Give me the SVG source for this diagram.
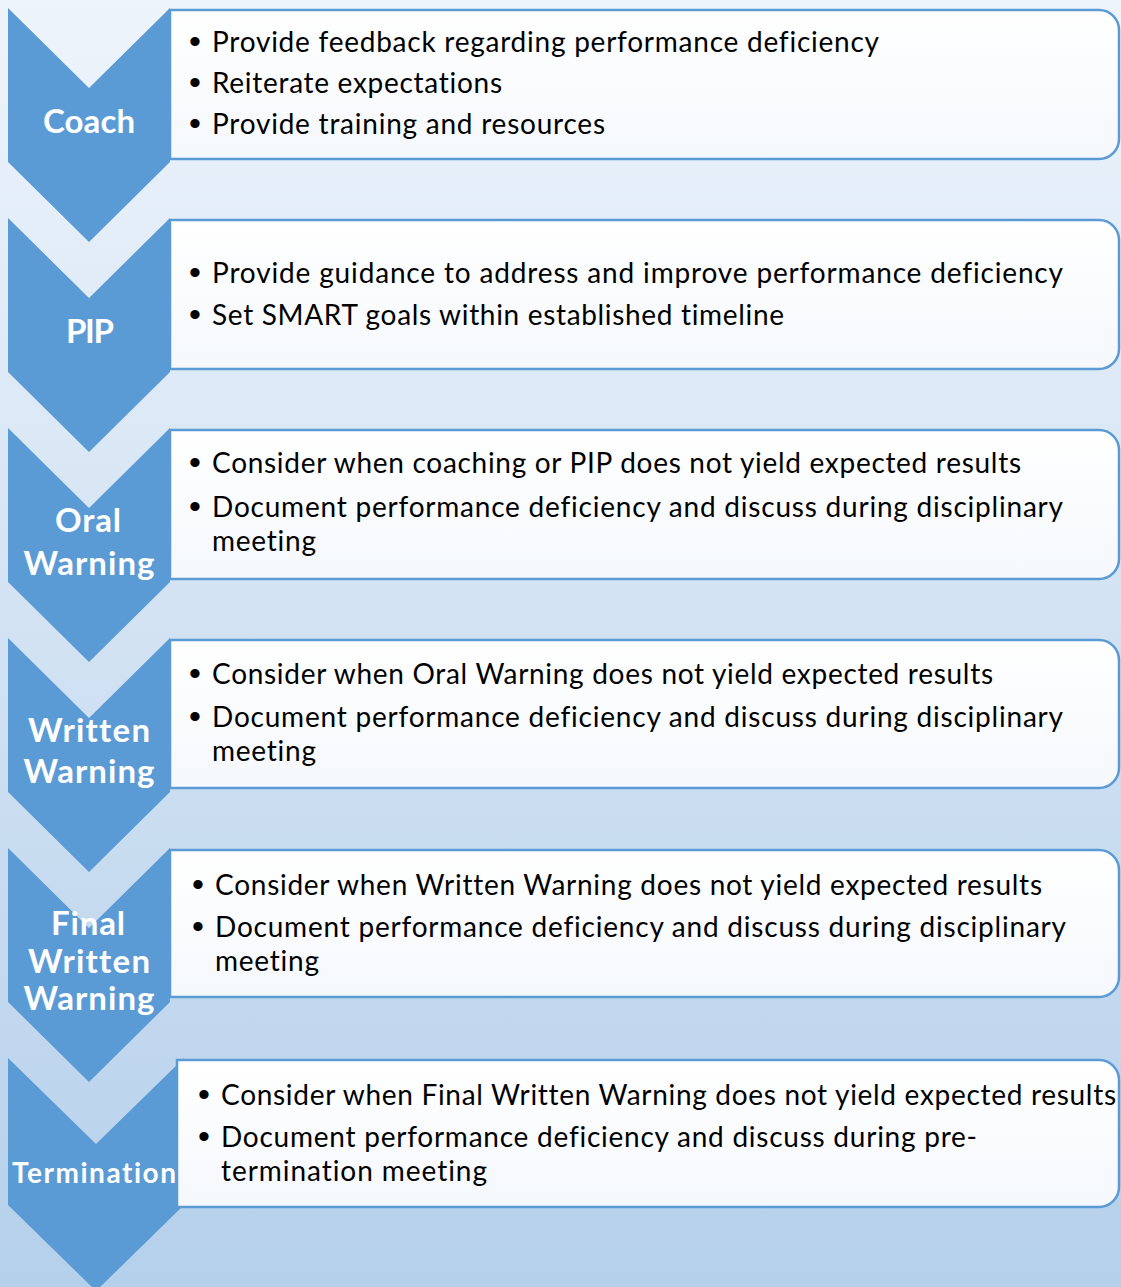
<svg xmlns="http://www.w3.org/2000/svg" width="1121" height="1287" viewBox="0 0 1121 1287">
<defs>
<linearGradient id="bg" x1="0" y1="0" x2="0" y2="1">
<stop offset="0" stop-color="#EEF4FB"/>
<stop offset="1" stop-color="#B5D0EB"/>
</linearGradient>
<linearGradient id="boxfill" x1="0" y1="0" x2="0" y2="1">
<stop offset="0" stop-color="#FFFFFF"/>
<stop offset="1" stop-color="#F5F8FC"/>
</linearGradient>
</defs>
<style>
.chev{fill:#5B9BD5;}
.box{fill:url(#boxfill);stroke:#5B9BD5;stroke-width:2.5;}
.lbl{font-family:Lato,"Liberation Sans",sans-serif;font-weight:bold;font-size:33px;fill:#FFFFFF;text-anchor:middle;font-variant-ligatures:none;font-feature-settings:"liga" 0,"dlig" 0,"clig" 0;}
.txt{font-family:Lato,"Liberation Sans",sans-serif;font-size:28px;fill:#000000;font-variant-ligatures:none;font-feature-settings:"liga" 0,"dlig" 0,"clig" 0;}
.bul{font-family:"Liberation Sans",sans-serif;font-size:34px;fill:#000000;text-anchor:middle;}
</style>
<rect x="0" y="0" width="1121" height="1287" fill="url(#bg)"/>

<g id="connectors"></g>

<g id="coach">
<polygon class="chev" points="8,8 89,88 170,8 170,162 89,242 8,162"/>
<path class="box" d="M170,10 H1099 A20,20 0 0 1 1119,30 V139 A20,20 0 0 1 1099,159 H170 Z"/>
<text class="lbl" x="89" y="133" textLength="92">Coach</text>
<text class="bul" x="195" y="53">•</text>
<text class="txt" x="212" y="52" textLength="667">Provide feedback regarding performance deficiency</text>
<text class="bul" x="195" y="94">•</text>
<text class="txt" x="212" y="93" textLength="290">Reiterate expectations</text>
<text class="bul" x="195" y="135">•</text>
<text class="txt" x="212" y="134" textLength="393">Provide training and resources</text>
</g>

<g id="pip">
<polygon class="chev" points="8,218 89,298 170,218 170,372 89,452 8,372"/>
<path class="box" d="M170,220 H1099 A20,20 0 0 1 1119,240 V349 A20,20 0 0 1 1099,369 H170 Z"/>
<text class="lbl" x="90" y="343" textLength="48">PIP</text>
<text class="bul" x="195" y="284">•</text>
<text class="txt" x="212" y="283" textLength="851">Provide guidance to address and improve performance deficiency</text>
<text class="bul" x="195" y="326">•</text>
<text class="txt" x="212" y="325" textLength="572">Set SMART goals within established timeline</text>
</g>

<g id="oral-warning">
<polygon class="chev" points="8,428 89,508 170,428 170,582 89,662 8,582"/>
<path class="box" d="M170,430 H1099 A20,20 0 0 1 1119,450 V559 A20,20 0 0 1 1099,579 H170 Z"/>
<text class="lbl" x="88" y="532" textLength="66">Oral</text>
<text class="lbl" x="89" y="575" textLength="131">Warning</text>
<text class="bul" x="195" y="474">•</text>
<text class="txt" x="212" y="473" textLength="809">Consider when coaching or PIP does not yield expected results</text>
<text class="bul" x="195" y="518">•</text>
<text class="txt" x="212" y="517" textLength="851">Document performance deficiency and discuss during disciplinary</text>
<text class="txt" x="212" y="551" textLength="104">meeting</text>
</g>

<g id="written-warning">
<polygon class="chev" points="8,638 89,718 170,638 170,792 89,872 8,792"/>
<path class="box" d="M170,640 H1099 A20,20 0 0 1 1119,660 V768 A20,20 0 0 1 1099,788 H170 Z"/>
<text class="lbl" x="89" y="742" textLength="122">Written</text>
<text class="lbl" x="89" y="783" textLength="131">Warning</text>
<text class="bul" x="195" y="685">•</text>
<text class="txt" x="212" y="684" textLength="781">Consider when Oral Warning does not yield expected results</text>
<text class="bul" x="195" y="728">•</text>
<text class="txt" x="212" y="727" textLength="851">Document performance deficiency and discuss during disciplinary</text>
<text class="txt" x="212" y="761" textLength="104">meeting</text>
</g>

<g id="final-written-warning">
<polygon class="chev" points="8,848 89,928 170,848 170,1002 89,1082 8,1002"/>
<path class="box" d="M170,850 H1099 A20,20 0 0 1 1119,870 V977 A20,20 0 0 1 1099,997 H170 Z"/>
<text class="lbl" x="88" y="935" textLength="74">Final</text>
<text class="lbl" x="89" y="973" textLength="122">Written</text>
<text class="lbl" x="89" y="1010" textLength="131">Warning</text>
<text class="bul" x="198" y="896">•</text>
<text class="txt" x="215" y="895" textLength="827">Consider when Written Warning does not yield expected results</text>
<text class="bul" x="198" y="938">•</text>
<text class="txt" x="215" y="937" textLength="851">Document performance deficiency and discuss during disciplinary</text>
<text class="txt" x="215" y="971" textLength="104">meeting</text>
</g>

<g id="termination">
<polygon class="chev" points="8,1058 96,1144 184,1058 184,1205 96,1291 8,1205"/>
<path class="box" d="M177,1060 H1099 A20,20 0 0 1 1119,1080 V1187 A20,20 0 0 1 1099,1207 H177 Z"/>
<text class="lbl" x="94" y="1183" style="font-size:28px" textLength="164">Termination</text>
<text class="bul" x="204" y="1106">•</text>
<text class="txt" x="221" y="1105" textLength="895">Consider when Final Written Warning does not yield expected results</text>
<text class="bul" x="204" y="1148">•</text>
<text class="txt" x="221" y="1147" textLength="756">Document performance deficiency and discuss during pre-</text>
<text class="txt" x="221" y="1181" textLength="266">termination meeting</text>
</g>
</svg>
